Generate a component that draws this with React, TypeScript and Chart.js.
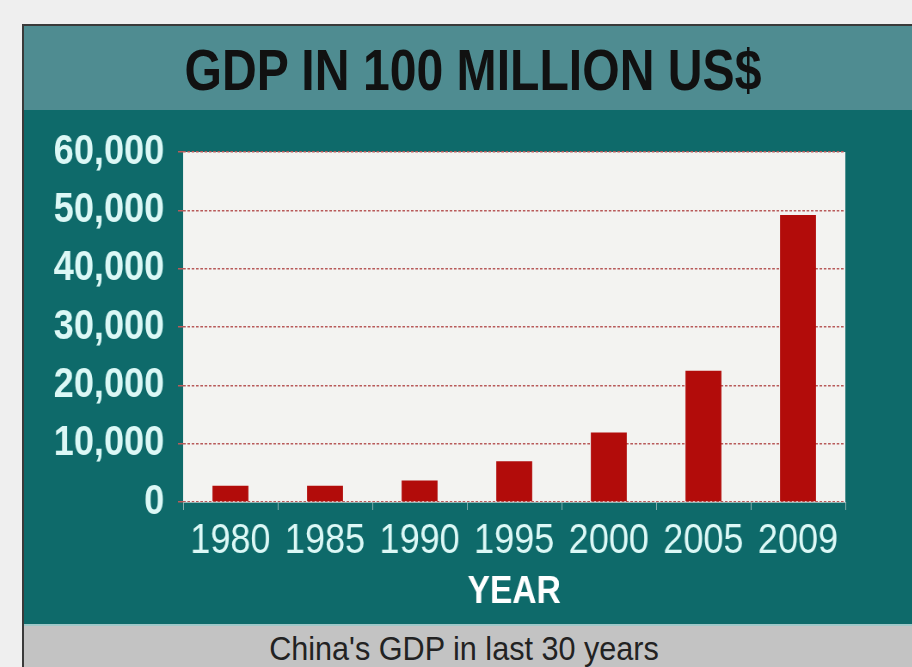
import React, { useEffect, useRef } from "react";
import { Chart, registerables } from "chart.js";

Chart.register(...registerables);

const categories = ["1980", "1985", "1990", "1995", "2000", "2005", "2009"];
const gdpValues = [2800, 2800, 3700, 7000, 11900, 22500, 49200];
const yTicks = [0, 10000, 20000, 30000, 40000, 50000, 60000];
const titleText = "GDP IN 100 MILLION US$";
const xAxisTitle = "YEAR";
const captionText = "China's GDP in last 30 years";

const FONT = "'Liberation Sans', Arial, sans-serif";
const SQUEEZE = 0.86; // horizontal condensing of the chart canvas
const DISPLAY_W = 888;
const DISPLAY_H = 514;
const CANVAS_W = Math.round(DISPLAY_W / SQUEEZE);

const plotBg = {
  id: "plotBg",
  beforeDraw(chart: any) {
    const { ctx, chartArea } = chart;
    ctx.save();
    ctx.fillStyle = "#f3f3f1";
    ctx.fillRect(chartArea.left, chartArea.top, chartArea.right - chartArea.left, chartArea.bottom - chartArea.top);
    ctx.restore();
  },
};

export default function App() {
  const ref = useRef<HTMLCanvasElement>(null);
  useEffect(() => {
    if (!ref.current) return;
    const chart = new Chart(ref.current, {
      type: "bar",
      data: {
        labels: categories,
        datasets: [
          {
            data: gdpValues,
            backgroundColor: "#b20c0a",
            barPercentage: 0.38,
            categoryPercentage: 1,
          },
        ],
      },
      plugins: [plotBg],
      options: {
        animation: false,
        responsive: false,
        devicePixelRatio: 1,
        layout: { padding: { top: 42, right: Math.round(67 / SQUEEZE), left: 0, bottom: 0 } },
        plugins: { legend: { display: false }, tooltip: { enabled: false }, title: { display: false } },
        scales: {
          x: {
            grid: { drawOnChartArea: false, drawTicks: true, tickLength: 8, color: "#8fb0b0", offset: true },
            border: { display: true, color: "#9ab8b8" },
            ticks: { color: "#dcf8f6", font: { family: FONT, size: 42 }, padding: 6, maxRotation: 0, autoSkip: false },
            title: {
              display: true,
              text: xAxisTitle,
              color: "#ffffff",
              font: { family: FONT, size: 39, weight: "bold" },
              padding: { top: 0, bottom: 8 },
            },
            afterFit(scale: any) {
              scale.height = 122;
            },
          },
          y: {
            min: 0,
            max: 60000,
            afterBuildTicks(scale: any) {
              scale.ticks = yTicks.map((v) => ({ value: v }));
            },
            grid: { color: "#b85a5a", lineWidth: 1.5, drawTicks: true, tickLength: 6 },
            border: { display: false, dash: [3, 2] },
            ticks: {
              color: "#dcf8f6",
              font: { family: FONT, size: 42, weight: "bold" },
              padding: 16,
              callback: (v: any) => Number(v).toLocaleString("en-US"),
            },
            afterFit(scale: any) {
              scale.width = Math.round(159 / SQUEEZE);
            },
          },
        },
      },
    });
    return () => chart.destroy();
  }, []);

  return (
    <div style={{ position: "fixed", left: 0, top: 0, width: 912, height: 667, background: "#efefef", overflow: "hidden" }}>
      <div
        style={{
          position: "absolute",
          left: 22,
          top: 24,
          width: 900,
          height: 660,
          borderTop: "2px solid #3a3a3a",
          borderLeft: "2px solid #3a3a3a",
          boxSizing: "border-box",
          background: "#0e6a6a",
        }}
      />
      <div style={{ position: "absolute", left: 24, top: 26, width: 900, height: 84, background: "#4f8c91" }} />
      <div
        style={{
          position: "absolute",
          left: 73,
          top: 35,
          width: 800,
          textAlign: "center",
          whiteSpace: "nowrap",
          fontFamily: FONT,
          fontWeight: "bold",
          fontSize: 58,
          color: "#111",
          lineHeight: "70px",
          transform: "scaleX(0.83)",
          transformOrigin: "center",
        }}
      >
        {titleText}
      </div>
      <canvas
        ref={ref}
        width={CANVAS_W}
        height={DISPLAY_H}
        style={{
          position: "absolute",
          left: 24,
          top: 110,
          width: CANVAS_W,
          height: DISPLAY_H,
          transform: `scaleX(${SQUEEZE})`,
          transformOrigin: "left top",
        }}
      />
      <div
        style={{
          position: "absolute",
          left: 24,
          top: 624,
          width: 900,
          height: 50,
          background: "#c3c3c3",
          borderTop: "2px solid #9fc8c8",
          boxSizing: "border-box",
        }}
      />
      <div
        style={{
          position: "absolute",
          left: 214,
          top: 628,
          width: 500,
          textAlign: "center",
          whiteSpace: "nowrap",
          fontFamily: FONT,
          fontSize: 34,
          color: "#222",
          lineHeight: "40px",
          transform: "scaleX(0.9)",
          transformOrigin: "center",
        }}
      >
        {captionText}
      </div>
    </div>
  );
}
